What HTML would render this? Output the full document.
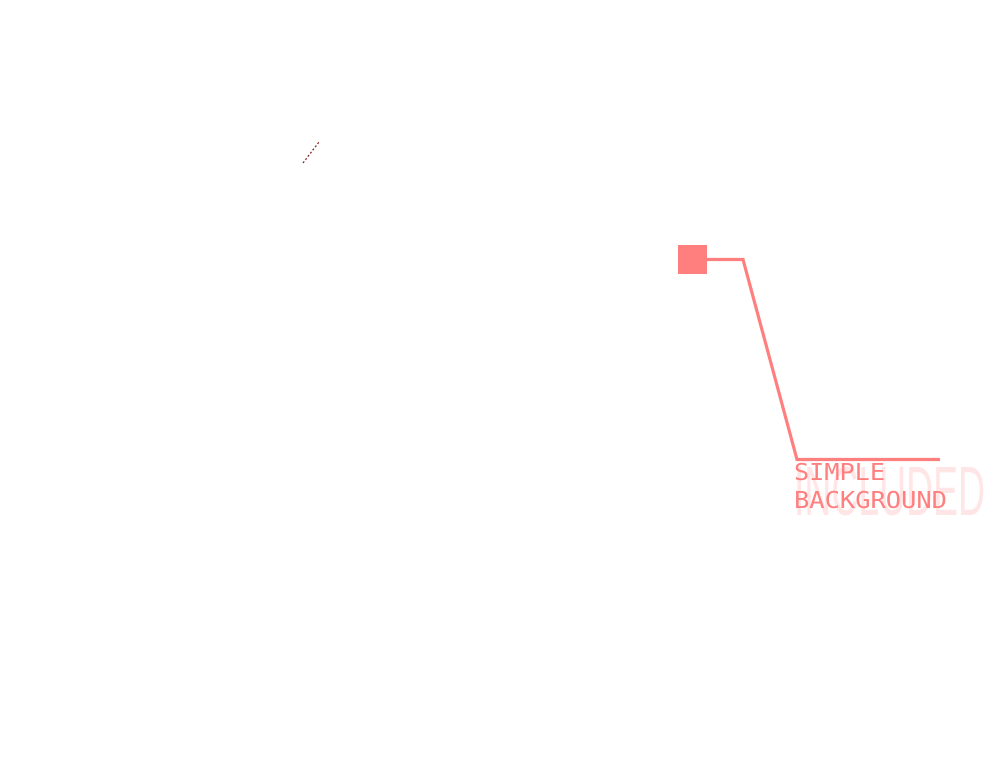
<!DOCTYPE html>
<html><head><meta charset="utf-8"><style>html,body{margin:0;padding:0;background:#fff;width:987px;height:776px;overflow:hidden}</style></head>
<body>
<svg width="987" height="776" viewBox="0 0 987 776" xmlns="http://www.w3.org/2000/svg">
<line x1="303" y1="163" x2="319" y2="142" stroke="#8b2a2a" stroke-width="1.3" stroke-dasharray="2,2"/>
<rect x="678" y="245" width="29" height="29" fill="#ff7f7f"/>
<polyline points="707,259.5 743,259.5 797,459.5 940,459.5" fill="none" stroke="#ff7f7f" stroke-width="3.2"/>
<text x="794" y="515" font-family="Liberation Sans Narrow, Liberation Sans, sans-serif" font-size="70" fill="#ff7f7f" fill-opacity="0.2" textLength="191" lengthAdjust="spacingAndGlyphs">INCLUDED</text>
<text x="794" y="480" font-family="DejaVu Sans Mono, Liberation Mono, monospace" font-size="23" fill="#ff7f7f" textLength="91" lengthAdjust="spacingAndGlyphs">SIMPLE</text>
<text x="794" y="508" font-family="DejaVu Sans Mono, Liberation Mono, monospace" font-size="23" fill="#ff7f7f" textLength="153" lengthAdjust="spacingAndGlyphs">BACKGROUND</text>
</svg>
</body></html>
